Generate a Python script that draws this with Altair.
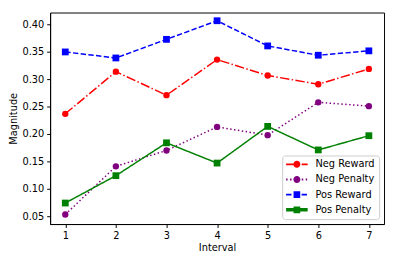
import altair as alt
import pandas as pd

intervals = [1, 2, 3, 4, 5, 6, 7]
neg_reward = [0.237, 0.314, 0.271, 0.336, 0.307, 0.291, 0.319]
neg_penalty = [0.053, 0.141, 0.170, 0.213, 0.198, 0.258, 0.251]
pos_reward = [0.350, 0.339, 0.373, 0.407, 0.361, 0.344, 0.352]
pos_penalty = [0.074, 0.124, 0.184, 0.147, 0.214, 0.171, 0.197]
series_names = ["Neg Reward", "Neg Penalty", "Pos Reward", "Pos Penalty"]
colors = ["#ff0000", "#800080", "#0000ff", "#008000"]
y_ticks = [0.05, 0.10, 0.15, 0.20, 0.25, 0.30, 0.35, 0.40]
x_ticks = [1, 2, 3, 4, 5, 6, 7]

values = [neg_reward, neg_penalty, pos_reward, pos_penalty]
rows = []
for i, (name, vals) in enumerate(zip(series_names, values)):
    for x, v in zip(intervals, vals):
        rows.append({"Interval": x, "Magnitude": v, "series": name, "order": i})
df = pd.DataFrame(rows)

dashes = [[9.6, 2.4, 1.5, 2.4], [1.5, 2.5], [5.5, 2.4], [1, 0]]

# legend symbol paths (units: 5px per unit at symbol size 100)
U = 5.0
SHIFT = 6.0  # px shift to the right so the symbol starts at the entry's left edge


def line_path(pattern, half_thick_px, half_len_px=11.0):
    t = half_thick_px / U
    parts = []
    pos = -half_len_px
    k = 0
    if pattern[1] == 0:
        a, b = (-half_len_px + SHIFT) / U, (half_len_px + SHIFT) / U
        return f"M{a:.3f},{-t:.3f}H{b:.3f}V{t:.3f}H{a:.3f}Z"
    while pos < half_len_px:
        seg = pattern[k % len(pattern)]
        end = min(pos + seg, half_len_px)
        if k % 2 == 0:
            a, b = (pos + SHIFT) / U, (end + SHIFT) / U
            parts.append(f"M{a:.3f},{-t:.3f}H{b:.3f}V{t:.3f}H{a:.3f}Z")
        pos += seg
        k += 1
    return "".join(parts)


c = SHIFT / U
r = 3.6 / U
circle = f"M{c + r:.3f},0A{r:.3f},{r:.3f} 0 1,1 {c - r:.3f},0A{r:.3f},{r:.3f} 0 1,1 {c + r:.3f},0Z"
q = 3.4 / U
square = f"M{c - q:.3f},{-q:.3f}H{c + q:.3f}V{q:.3f}H{c - q:.3f}Z"
markers = [circle, circle, square, square]
thick = [0.9, 0.9, 0.9, 1.8]
legend_paths = [line_path(d, t) + m for d, t, m in zip(dashes, thick, markers)]

x_scale = alt.Scale(domain=[0.7, 7.3], nice=False, zero=False)
y_scale = alt.Scale(domain=[0.0356, 0.422], nice=False, zero=False)
color_scale = alt.Scale(domain=series_names, range=colors)

x_enc = alt.X("Interval:Q", scale=x_scale,
              axis=alt.Axis(values=x_ticks, format="d", title="Interval"))
y_enc = alt.Y("Magnitude:Q", scale=y_scale,
              axis=alt.Axis(values=y_ticks, format=".2f", title="Magnitude"))

legend = alt.Legend(
    title=None, orient="bottom-right", offset=5,
    symbolSize=100, symbolOpacity=1, symbolStrokeWidth=0,
    labelFontSize=10, labelColor="#000", labelFont="DejaVu Sans",
    labelOffset=20, rowPadding=5.5,
    fillColor="white", strokeColor="#cccccc", cornerRadius=3, padding=4,
)

color_enc = alt.Color("series:N", scale=color_scale, legend=legend, sort=series_names)

base = alt.Chart(df)

lines = base.mark_line(strokeWidth=1.5).encode(
    x=x_enc, y=y_enc,
    color=color_enc,
    strokeDash=alt.StrokeDash("series:N", scale=alt.Scale(domain=series_names, range=dashes), legend=None),
    detail="series:N",
)

circles = base.transform_filter(
    alt.FieldOneOfPredicate(field="series", oneOf=["Neg Reward", "Neg Penalty"])
).mark_point(shape="circle", filled=True, size=42, opacity=1).encode(
    x=x_enc, y=y_enc, color=color_enc,
)

squares = base.transform_filter(
    alt.FieldOneOfPredicate(field="series", oneOf=["Pos Reward", "Pos Penalty"])
).mark_point(shape="square", filled=True, size=48, opacity=1).encode(
    x=x_enc, y=y_enc, color=color_enc,
)

ghost = base.mark_point(filled=True, opacity=0, size=100).encode(
    x=x_enc, y=y_enc,
    color=color_enc,
    shape=alt.Shape("series:N", scale=alt.Scale(domain=series_names, range=legend_paths),
                    legend=legend, sort=series_names),
)

chart = alt.layer(ghost, lines, circles, squares).properties(
    width=386, height=248,
    autosize=alt.AutoSizeParams(type="fit", contains="padding"),
    padding={"left": 0, "top": 2, "right": 2, "bottom": 0},
).configure_view(
    stroke="#000", strokeWidth=1,
).configure_axis(
    grid=False, domainColor="#000", tickColor="#000", tickSize=3.5,
    labelColor="#000", titleColor="#000", labelFont="DejaVu Sans", titleFont="DejaVu Sans",
    labelFontSize=10, titleFontSize=10, titleFontWeight="normal", labelPadding=3,
).configure_axisY(titlePadding=4).configure_axisX(titlePadding=3)

chart.save("out.html", embed_options={"renderer": "svg", "actions": False})
